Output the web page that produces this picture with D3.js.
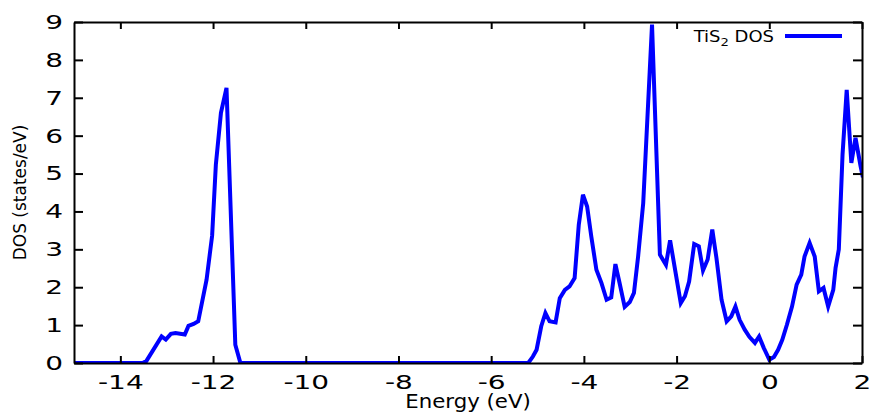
<!DOCTYPE html>
<html>
  <head>
  <meta charset="utf-8">
  <title>TiS2 DOS</title>
  <style>
    body, html {
      margin: 0;
      padding: 0;
      background: #fff;
    }
    svg text {
      font-family: "DejaVu Sans", sans-serif;
      fill: #000;
    }
  </style>
  </head>
  <body>
    <svg id="svg" width="870" height="413"></svg>
  <script src="https://cdn.jsdelivr.net/npm/d3@7"></script>
  <script>
    // energies (eV) and DOS (states/eV)
    const energy = [-15, -13.52, -13.44, -13.11, -13.02, -12.91, -12.81, -12.61, -12.53, -12.42, -12.32,
      -12.14, -12.02, -11.94, -11.83, -11.71, -11.52, -11.41,
      -5.20, -5.10, -5.02, -4.92, -4.83, -4.74, -4.61, -4.52, -4.41, -4.31, -4.20, -4.11, -4.02,
      -3.93, -3.84, -3.73, -3.62, -3.51, -3.41, -3.32, -3.23, -3.12, -3.01, -2.92, -2.83, -2.72,
      -2.53, -2.36, -2.23, -2.14, -2.02, -1.91, -1.82, -1.73, -1.62, -1.52, -1.43, -1.33, -1.23,
      -1.14, -1.03, -0.92, -0.82, -0.73, -0.64, -0.53, -0.43, -0.31, -0.22, -0.12, 0.00, 0.10,
      0.19, 0.28, 0.38, 0.49, 0.59, 0.69, 0.76, 0.87, 0.98, 1.07, 1.17, 1.27, 1.38, 1.43, 1.50,
      1.58, 1.67, 1.77, 1.86, 1.97, 2.02]
    const dos = [0, 0, 0.05, 0.70, 0.62, 0.77, 0.79, 0.75, 0.98, 1.03, 1.10,
      2.2, 3.36, 5.23, 6.6, 7.26, 0.48, 0,
      0, 0.17, 0.35, 0.97, 1.32, 1.10, 1.07, 1.71, 1.93, 2.02, 2.24, 3.65, 4.44,
      4.13, 3.34, 2.46, 2.11, 1.67, 1.73, 2.61, 2.11, 1.48, 1.61, 1.85, 2.81, 4.22,
      8.93, 2.86, 2.59, 3.24, 2.37, 1.58, 1.76, 2.15, 3.14, 3.08, 2.44, 2.73, 3.52,
      2.77, 1.67, 1.10, 1.23, 1.49, 1.14, 0.88, 0.69, 0.53, 0.70, 0.40, 0.09, 0.16,
      0.35, 0.61, 1.01, 1.49, 2.07, 2.33, 2.81, 3.17, 2.81, 1.89, 1.98, 1.49, 1.93, 2.51, 3.0,
      5.5, 7.21, 5.28, 5.94, 5.19, 4.9]

    const xTicks = [-14, -12, -10, -8, -6, -4, -2, 0, 2]
    const yTicks = [0, 1, 2, 3, 4, 5, 6, 7, 8, 9]
    const seriesName = "DOS"

    const margin = { top: 22, right: 8, bottom: 50, left: 74 }
    const width = 870 - margin.left - margin.right
    const height = 413 - margin.top - margin.bottom
    const stretch = 1.4 // tick labels look horizontally stretched

    const xScale = d3.scaleLinear().domain([-15, 2]).range([margin.left, margin.left + width])
    const yScale = d3.scaleLinear().domain([0, 9]).range([margin.top + height, margin.top])

    const svg = d3.select('#svg')

    svg.append("clipPath").attr("id", "clip")
      .append("rect")
      .attr("x", margin.left).attr("y", margin.top)
      .attr("width", width).attr("height", height)

    const points = energy.map((e, i) => ({ e: e, d: dos[i] }))

    const line = d3.line()
      .x(d => xScale(d.e))
      .y(d => yScale(d.d))

    svg.append("path")
      .datum(points)
      .attr("clip-path", "url(#clip)")
      .attr("fill", "none")
      .attr("stroke", "#0000ff")
      .attr("stroke-width", 4)
      .attr("stroke-linejoin", "miter")
      .attr("d", line)

    const plain = d => String(d) // plain hyphen, like the original

    // bottom axis, ticks point inward
    const xAxis = svg.append("g")
      .attr("transform", `translate(0, ${yScale(0)})`)
      .call(d3.axisBottom(xScale).tickValues(xTicks).tickFormat(plain)
        .tickSizeInner(-7).tickSizeOuter(0).tickPadding(12))
    xAxis.selectAll("text")
      .style("font-size", "20px")
      .attr("transform", `scale(${stretch},1)`)

    svg.append("g")
      .attr("transform", `translate(0, ${yScale(9)})`)
      .call(d3.axisTop(xScale).tickValues(xTicks).tickSizeInner(-7).tickSizeOuter(0).tickFormat(""))

    const yAxis = svg.append("g")
      .attr("transform", `translate(${xScale(-15)}, 0)`)
      .call(d3.axisLeft(yScale).tickValues(yTicks).tickFormat(plain)
        .tickSizeInner(-9).tickSizeOuter(0).tickPadding(11))
    yAxis.selectAll("text")
      .style("font-size", "20px")
      .attr("x", -11 / stretch)
      .attr("transform", `scale(${stretch},1)`)

    svg.append("g")
      .attr("transform", `translate(${xScale(2)}, 0)`)
      .call(d3.axisRight(yScale).tickValues(yTicks).tickSizeInner(-9).tickSizeOuter(0).tickFormat(""))

    svg.selectAll(".domain, .tick line")
      .attr("stroke", "#000")
      .attr("stroke-width", 2)

    // axis titles
    svg.append("text")
      .attr("transform", `translate(${margin.left + width / 2}, 408) scale(1.12,1)`)
      .attr("text-anchor", "middle")
      .style("font-size", "19px")
      .text("Energy (eV)")

    svg.append("text")
      .attr("transform", `translate(26, ${margin.top + height / 2}) rotate(-90)`)
      .attr("text-anchor", "middle")
      .style("font-size", "17px")
      .text("DOS (states/eV)")

    // legend
    const legend = svg.append("g").attr("class", "legend")
    const label = legend.append("text")
      .attr("transform", "translate(774, 42) scale(1.2,1)")
      .attr("text-anchor", "end")
      .style("font-size", "15px")
    label.append("tspan").text("TiS")
    label.append("tspan").attr("dy", 4).style("font-size", "11px").text("2")
    label.append("tspan").attr("dy", -4).text(" " + seriesName)

    legend.append("line")
      .attr("x1", 785).attr("x2", 842)
      .attr("y1", 36).attr("y2", 36)
      .attr("stroke", "#0000ff")
      .attr("stroke-width", 4)
  </script>
  </body>
</html>
